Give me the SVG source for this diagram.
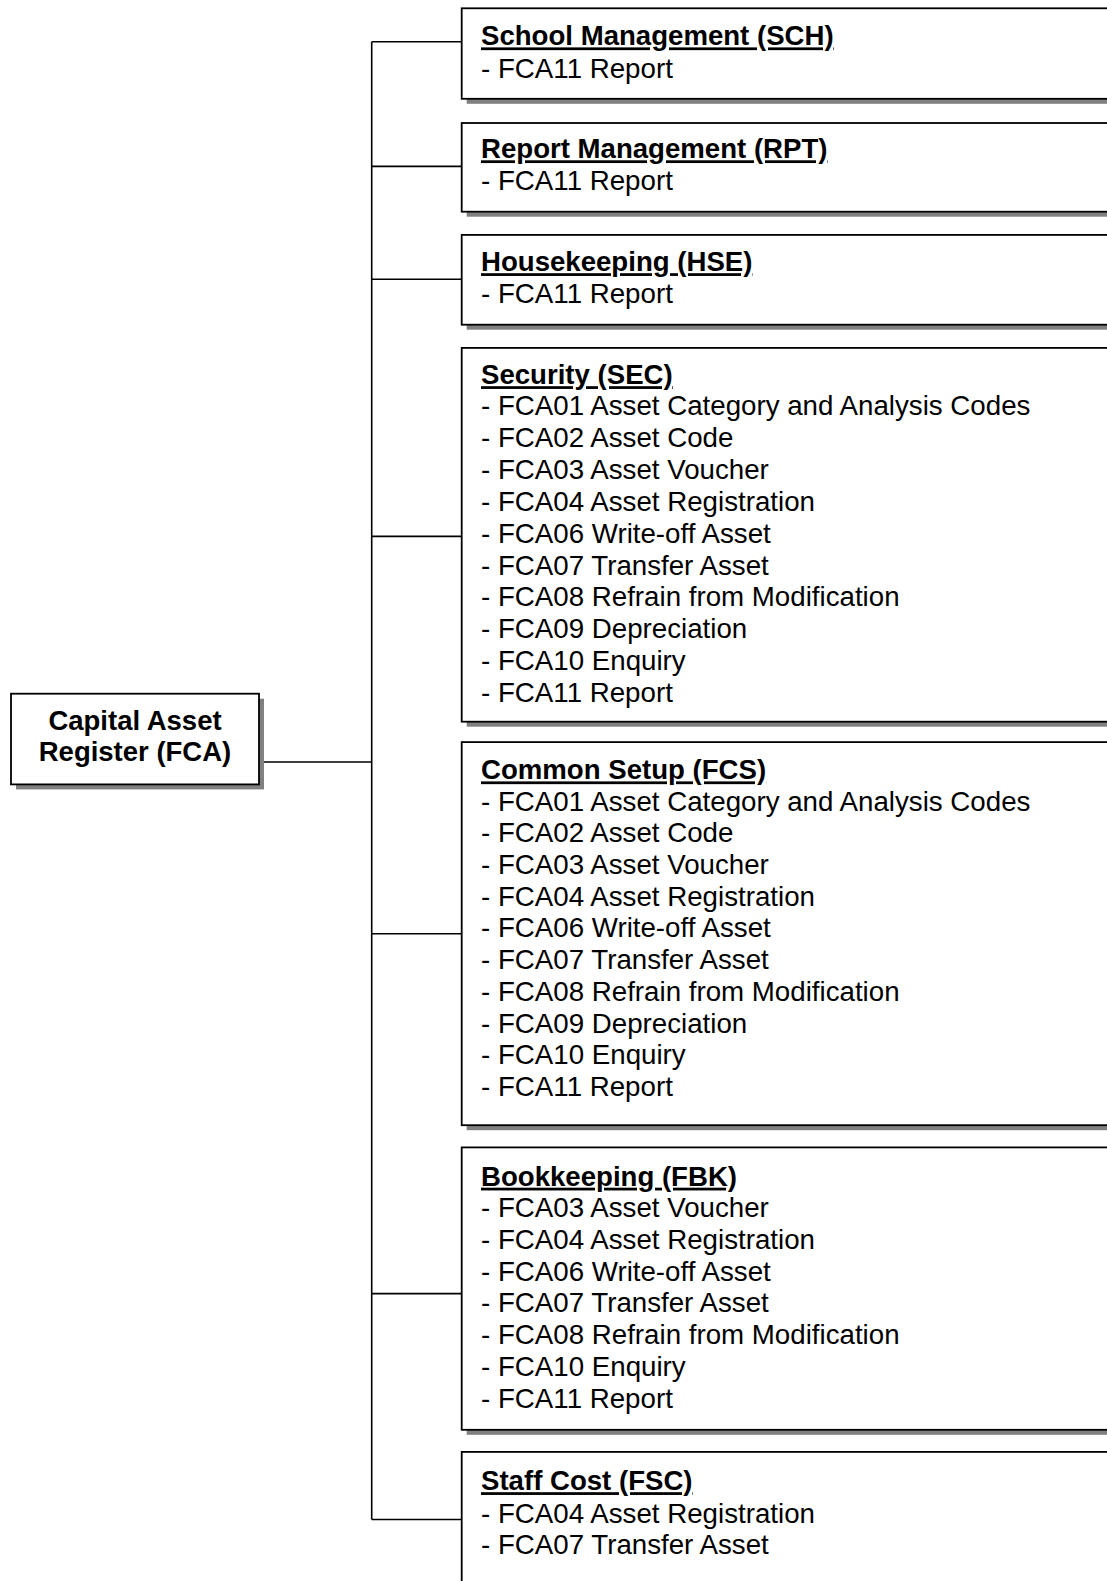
<svg xmlns="http://www.w3.org/2000/svg" width="1107" height="1581" viewBox="0 0 1107 1581">
<style>
.box{fill:#ffffff;stroke:#000000;stroke-width:1.8}
.sh{fill:#808080}
.conn{fill:none;stroke:#000000;stroke-width:1.6}
text{font-family:"Liberation Sans",Arial,sans-serif;font-size:27.7px;fill:#000000}
.t{font-size:27.6px;font-weight:bold;text-decoration:underline;text-decoration-skip-ink:none;text-decoration-thickness:2.6px}
.r{font-size:27.5px;font-weight:bold;text-anchor:middle}
</style>
<rect width="1107" height="1581" fill="#ffffff"/>
<g id="connectors">
<path class="conn" d="M259,762 H371.7 M371.7,41.7 V1519.5 M371.7,41.7 H461.7 M371.7,166.4 H461.7 M371.7,279.3 H461.7 M371.7,536.4 H461.7 M371.7,933.7 H461.7 M371.7,1293.6 H461.7 M371.7,1519.5 H461.7"/>
</g>
<g id="root">
<rect class="sh" x="16" y="698.7" width="248" height="90.7"/>
<rect class="box" x="11" y="693.7" width="248" height="90.7"/>
<text class="r" x="135" y="730">Capital Asset</text>
<text class="r" x="135" y="761.2">Register (FCA)</text>
</g>
<g id="sch">
<rect class="sh" x="466.7" y="13.3" width="660" height="90.5"/>
<rect class="box" x="461.7" y="8.3" width="660" height="90.5"/>
<text class="t" x="481" y="45.4">School Management (SCH)</text>
<text x="481" y="77.6">- FCA11 Report</text>
</g>
<g id="rpt">
<rect class="sh" x="466.7" y="128" width="660" height="88.7"/>
<rect class="box" x="461.7" y="123" width="660" height="88.7"/>
<text class="t" x="481" y="158.3">Report Management (RPT)</text>
<text x="481" y="189.6">- FCA11 Report</text>
</g>
<g id="hse">
<rect class="sh" x="466.7" y="239.9" width="660" height="89.8"/>
<rect class="box" x="461.7" y="234.9" width="660" height="89.8"/>
<text class="t" x="481" y="271.2">Housekeeping (HSE)</text>
<text x="481" y="302.5">- FCA11 Report</text>
</g>
<g id="sec">
<rect class="sh" x="466.7" y="352.9" width="660" height="373.8"/>
<rect class="box" x="461.7" y="347.9" width="660" height="373.8"/>
<text class="t" x="481" y="384.2">Security (SEC)</text>
<text x="481" y="415.4">- FCA01 Asset Category and Analysis Codes</text>
<text x="481" y="447.2">- FCA02 Asset Code</text>
<text x="481" y="479">- FCA03 Asset Voucher</text>
<text x="481" y="510.9">- FCA04 Asset Registration</text>
<text x="481" y="542.7">- FCA06 Write-off Asset</text>
<text x="481" y="574.5">- FCA07 Transfer Asset</text>
<text x="481" y="606.3">- FCA08 Refrain from Modification</text>
<text x="481" y="638.2">- FCA09 Depreciation</text>
<text x="481" y="670">- FCA10 Enquiry</text>
<text x="481" y="701.8">- FCA11 Report</text>
</g>
<g id="fcs">
<rect class="sh" x="466.7" y="747.1" width="660" height="383.1"/>
<rect class="box" x="461.7" y="742.1" width="660" height="383.1"/>
<text class="t" x="481" y="779.4">Common Setup (FCS)</text>
<text x="481" y="810.6">- FCA01 Asset Category and Analysis Codes</text>
<text x="481" y="842.3">- FCA02 Asset Code</text>
<text x="481" y="874">- FCA03 Asset Voucher</text>
<text x="481" y="905.7">- FCA04 Asset Registration</text>
<text x="481" y="937.4">- FCA06 Write-off Asset</text>
<text x="481" y="969.1">- FCA07 Transfer Asset</text>
<text x="481" y="1000.8">- FCA08 Refrain from Modification</text>
<text x="481" y="1032.5">- FCA09 Depreciation</text>
<text x="481" y="1064.2">- FCA10 Enquiry</text>
<text x="481" y="1095.9">- FCA11 Report</text>
</g>
<g id="fbk">
<rect class="sh" x="466.7" y="1152.4" width="660" height="282.4"/>
<rect class="box" x="461.7" y="1147.4" width="660" height="282.4"/>
<text class="t" x="481" y="1185.7">Bookkeeping (FBK)</text>
<text x="481" y="1217">- FCA03 Asset Voucher</text>
<text x="481" y="1248.8">- FCA04 Asset Registration</text>
<text x="481" y="1280.5">- FCA06 Write-off Asset</text>
<text x="481" y="1312.3">- FCA07 Transfer Asset</text>
<text x="481" y="1344.1">- FCA08 Refrain from Modification</text>
<text x="481" y="1375.8">- FCA10 Enquiry</text>
<text x="481" y="1407.6">- FCA11 Report</text>
</g>
<g id="fsc">
<rect class="sh" x="466.7" y="1456.9" width="660" height="200"/>
<rect class="box" x="461.7" y="1451.9" width="660" height="200"/>
<text class="t" x="481" y="1490.2">Staff Cost (FSC)</text>
<text x="481" y="1522.5">- FCA04 Asset Registration</text>
<text x="481" y="1553.7">- FCA07 Transfer Asset</text>
</g>
</svg>
